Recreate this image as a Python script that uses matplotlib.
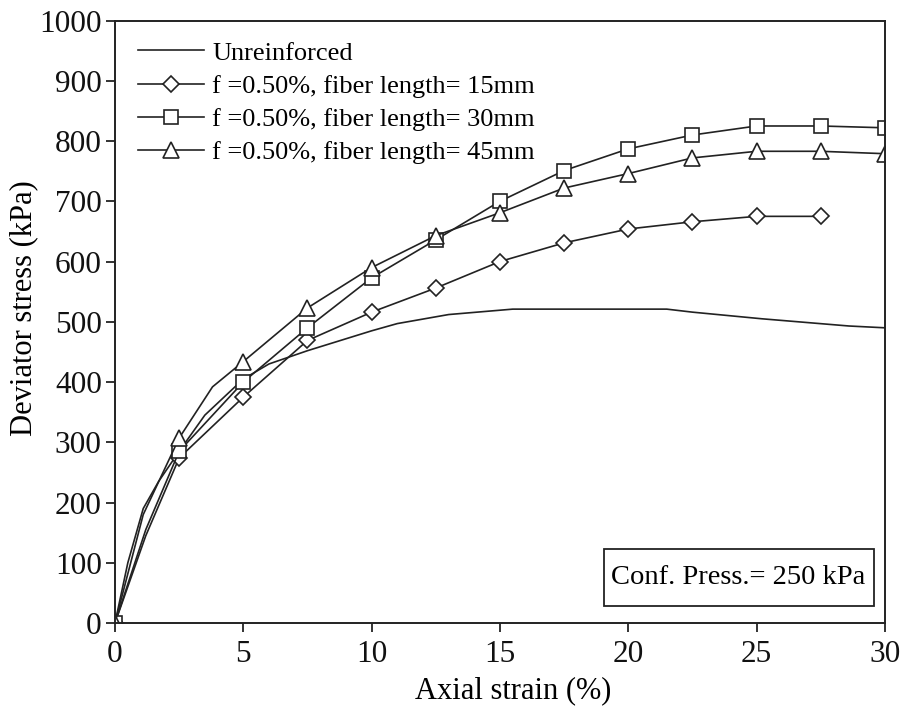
import matplotlib
matplotlib.use("Agg")
import matplotlib.pyplot as plt
from matplotlib.patches import Rectangle

plt.rcParams['font.family'] = ['Liberation Serif', 'DejaVu Serif']

# Unreinforced (line only)
x_unr = [0, 0.5, 1.1, 1.7, 2.5, 3.5, 5, 6, 7.5, 10, 11, 13, 15.5, 21.5, 22.5, 25.2, 28.6, 30]
y_unr = [0, 100, 190, 235, 285, 345, 405, 430, 452, 485, 497, 512, 521, 521, 516, 505, 493, 490]

# f = 0.50%, fiber length = 15 mm (diamonds)
x_15 = [0, 1.2, 2.5, 5, 7.5, 10, 12.5, 15, 17.5, 20, 22.5, 25, 27.5]
y_15 = [0, 145, 274, 375, 469, 516, 556, 600, 631, 654, 666, 675, 675]
mk_15 = [0, 2, 3, 4, 5, 6, 7, 8, 9, 10, 11, 12]

# f = 0.50%, fiber length = 30 mm (squares)
x_30 = [0, 1.2, 2.5, 5, 7.5, 10, 12.5, 15, 17.5, 20, 22.5, 25, 27.5, 30]
y_30 = [0, 155, 285, 400, 490, 573, 636, 700, 751, 787, 810, 825, 825, 822]
mk_30 = [0, 2, 3, 4, 5, 6, 7, 8, 9, 10, 11, 12, 13]

# f = 0.50%, fiber length = 45 mm (triangles)
x_45 = [0, 1.1, 2.5, 3.8, 5, 7.5, 10, 12.5, 15, 17.5, 20, 22.5, 25, 27.5, 30]
y_45 = [0, 180, 307, 392, 434, 523, 590, 643, 681, 722, 746, 772, 783, 783, 779]
mk_45 = [0, 2, 4, 5, 6, 7, 8, 9, 10, 11, 12, 13, 14]

labels = ["Unreinforced",
          "f =0.50%, fiber length= 15mm",
          "f =0.50%, fiber length= 30mm",
          "f =0.50%, fiber length= 45mm"]
x_ticks = [0, 5, 10, 15, 20, 25, 30]
y_ticks = list(range(0, 1001, 100))

fig = plt.figure(figsize=(9.02, 7.09), dpi=100)
ax = fig.add_axes([0.1275, 0.1213, 0.8535, 0.8497])

lc = '#222222'
mkw = dict(markerfacecolor='white', markeredgecolor=lc, markeredgewidth=1.2)
ax.plot(x_unr, y_unr, color=lc, lw=1.2, label=labels[0])
ax.plot(x_15, y_15, color=lc, lw=1.2, marker='D', markersize=8, markevery=mk_15,
        label=labels[1], **mkw)
ax.plot(x_30, y_30, color=lc, lw=1.2, marker='s', markersize=10, markevery=mk_30,
        label=labels[2], **mkw)
ax.plot(x_45, y_45, color=lc, lw=1.2, marker='^', markersize=11.5, markevery=mk_45,
        label=labels[3], **mkw)

ax.set_xlim(0, 30)
ax.set_ylim(0, 1000)
ax.set_xticks(x_ticks)
ax.set_yticks(y_ticks)
ax.tick_params(direction='out', length=6.5, width=1.2, labelsize=22.5, colors='#111111')
ax.tick_params(axis='x', pad=6)
ax.tick_params(axis='y', pad=3)
for s in ax.spines.values():
    s.set_linewidth(1.4)
    s.set_color('#222222')

ax.set_xlabel("Axial strain (%)", fontsize=22)
ax.xaxis.set_label_coords(0.517, -0.088)
ax.set_ylabel("Deviator stress (kPa)", fontsize=22)
ax.yaxis.set_label_coords(-0.100, 0.522)

leg = ax.legend(loc='upper left', frameon=False, fontsize=19, handlelength=2.5,
                handletextpad=0.3, labelspacing=0.37, borderaxespad=0.0, borderpad=0.0,
                bbox_to_anchor=(0.030, 0.966))

ax.add_patch(Rectangle((0.635, 0.028), 0.351, 0.0947, transform=ax.transAxes,
                       facecolor='white', edgecolor='#222222', lw=1.3, zorder=5))
ax.text(0.810, 0.0755, "Conf. Press.= 250 kPa", transform=ax.transAxes,
        ha='center', va='center', fontsize=20.5, zorder=6)

fig.savefig("out.png", dpi=100)
